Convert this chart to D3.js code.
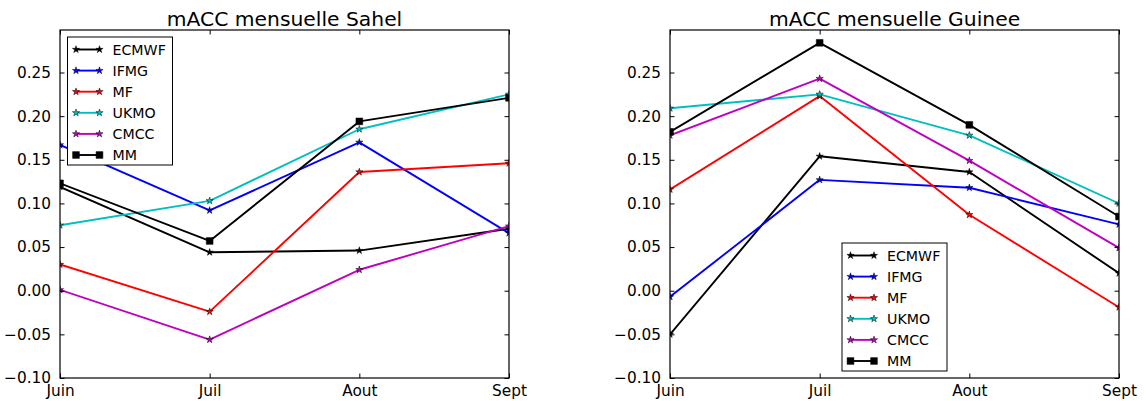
<!DOCTYPE html>
<html><head><meta charset="utf-8">
<script src="https://cdn.jsdelivr.net/npm/d3@7"></script>
<style>
body{margin:0;background:#fff}
svg{display:block}
text{font-family:"DejaVu Sans",sans-serif;fill:#000}
</style>
</head><body>
<svg id="c" width="1146" height="401"></svg>
<script>
// ---- data ----
const months = ["Juin", "Juil", "Aout", "Sept"];
const models = ["ECMWF", "IFMG", "MF", "UKMO", "CMCC", "MM"];
const colors = ["#000000", "#0000ff", "#ff0000", "#00bfbf", "#bf00bf", "#000000"];
const markerTypes = ["star", "star", "star", "star", "star", "square"];
const yTicks = [-0.10, -0.05, 0.00, 0.05, 0.10, 0.15, 0.20, 0.25];
const yDomain = [-0.10, 0.2987];

const sahelECMWF = [0.119, 0.044, 0.046, 0.071];
const sahelIFMG  = [0.167, 0.092, 0.170, 0.066];
const sahelMF    = [0.030, -0.024, 0.136, 0.146];
const sahelUKMO  = [0.075, 0.103, 0.185, 0.225];
const sahelCMCC  = [0.001, -0.056, 0.024, 0.074];
const sahelMM    = [0.123, 0.057, 0.194, 0.221];

const guineeECMWF = [-0.050, 0.154, 0.136, 0.020];
const guineeIFMG  = [-0.007, 0.127, 0.118, 0.076];
const guineeMF    = [0.116, 0.223, 0.087, -0.019];
const guineeUKMO  = [0.209, 0.225, 0.178, 0.100];
const guineeCMCC  = [0.178, 0.243, 0.149, 0.049];
const guineeMM    = [0.182, 0.284, 0.190, 0.085];

const sahel = [sahelECMWF, sahelIFMG, sahelMF, sahelUKMO, sahelCMCC, sahelMM];
const guinee = [guineeECMWF, guineeIFMG, guineeMF, guineeUKMO, guineeCMCC, guineeMM];

// ---- drawing ----
const svg = d3.select("#c");
const fmt = d3.format(".2f");
const starPath = d3.symbol().type(d3.symbolStar).size(16);
const sqPath = d3.symbol().type(d3.symbolSquare).size(46);

function marker(sel, type, color) {
  if (type === "square") {
    sel.append("path").attr("d", sqPath()).attr("fill", "#000").attr("stroke", "#000").attr("stroke-width", 0.5);
  } else {
    sel.append("path").attr("d", starPath()).attr("fill", color).attr("stroke", "#000").attr("stroke-width", 0.5);
  }
}

function panel(id, title, data, box, legendLoc) {
  const x = d3.scalePoint().domain(months).range([box.left, box.right]);
  const y = d3.scaleLinear().domain(yDomain).range([box.bottom, box.top]);
  const g = svg.append("g");

  g.append("clipPath").attr("id", "clip" + id).append("rect")
    .attr("x", box.left).attr("y", box.top)
    .attr("width", box.right - box.left).attr("height", box.bottom - box.top);

  const plot = g.append("g").attr("clip-path", `url(#clip${id})`);
  const line = d3.line().x((d, i) => x(months[i])).y(d => y(d));
  data.forEach((vals, k) => {
    plot.append("path").datum(vals).attr("d", line)
      .attr("fill", "none").attr("stroke", colors[k]).attr("stroke-width", 1.9)
      .attr("stroke-linejoin", "round");
    vals.forEach((v, i) => {
      const m = plot.append("g").attr("transform", `translate(${x(months[i])},${y(v)})`);
      marker(m, markerTypes[k], colors[k]);
    });
  });

  // axes (ticks inside, on all four sides)
  const tl = 4.5;
  const axL = d3.axisLeft(y).tickValues(yTicks).tickFormat(fmt).tickSizeInner(-tl).tickSizeOuter(0).tickPadding(tl + 4.5);
  const axR = d3.axisRight(y).tickValues(yTicks).tickFormat("").tickSizeInner(-tl).tickSizeOuter(0);
  const axB = d3.axisBottom(x).tickSizeInner(-tl).tickSizeOuter(0).tickPadding(tl + 2.5);
  const axT = d3.axisTop(x).tickFormat("").tickSizeInner(-tl).tickSizeOuter(0);

  const gl = g.append("g").attr("transform", `translate(${box.left},0)`).call(axL);
  const gr = g.append("g").attr("transform", `translate(${box.right},0)`).call(axR);
  const gb = g.append("g").attr("transform", `translate(0,${box.bottom})`).call(axB);
  const gt = g.append("g").attr("transform", `translate(0,${box.top})`).call(axT);
  [gl, gr, gb, gt].forEach(a => {
    a.select(".domain").remove();
    a.selectAll(".tick line").attr("stroke", "#000").attr("stroke-width", 1);
  });
  gl.selectAll(".tick text").attr("font-size", 15.3).attr("font-family", "DejaVu Sans").attr("fill", "#000");
  gb.selectAll(".tick text").attr("font-size", 15.3).attr("font-family", "DejaVu Sans").attr("fill", "#000").attr("dy", "0.72em");

  // frame
  g.append("rect").attr("x", box.left).attr("y", box.top)
    .attr("width", box.right - box.left).attr("height", box.bottom - box.top)
    .attr("fill", "none").attr("stroke", "#000").attr("stroke-width", 1.2);

  // title
  g.append("text").attr("x", (box.left + box.right) / 2).attr("y", box.top - 4.5)
    .attr("text-anchor", "middle").attr("font-size", 20.3).text(title);

  // legend
  const lw = 105, lh = 128;
  let lx, ly;
  if (legendLoc === "upper left") { lx = box.left + 7.5; ly = box.top + 7; }
  else { lx = (box.left + box.right) / 2 - lw / 2; ly = box.bottom - 7 - lh; }
  const lg = g.append("g").attr("transform", `translate(${lx},${ly})`);
  lg.append("rect").attr("x", 0).attr("y", 0).attr("width", lw).attr("height", lh)
    .attr("fill", "#fff").attr("stroke", "#000").attr("stroke-width", 1);
  models.forEach((name, k) => {
    const ry = 12.5 + k * 21.1;
    lg.append("line").attr("x1", 8.5).attr("x2", 32).attr("y1", ry).attr("y2", ry)
      .attr("stroke", colors[k]).attr("stroke-width", 1.9);
    [8.5, 32].forEach(px => {
      const m = lg.append("g").attr("transform", `translate(${px},${ry})`);
      marker(m, markerTypes[k], colors[k]);
    });
    lg.append("text").attr("x", 45).attr("y", ry).attr("dy", "0.36em")
      .attr("font-size", 14.2).text(name);
  });
}

panel("a", "mACC mensuelle Sahel", sahel, {left: 60, right: 509, top: 30, bottom: 378}, "upper left");
panel("b", "mACC mensuelle Guinee", guinee, {left: 670, right: 1119, top: 30, bottom: 378}, "lower center");
</script>
</body></html>
